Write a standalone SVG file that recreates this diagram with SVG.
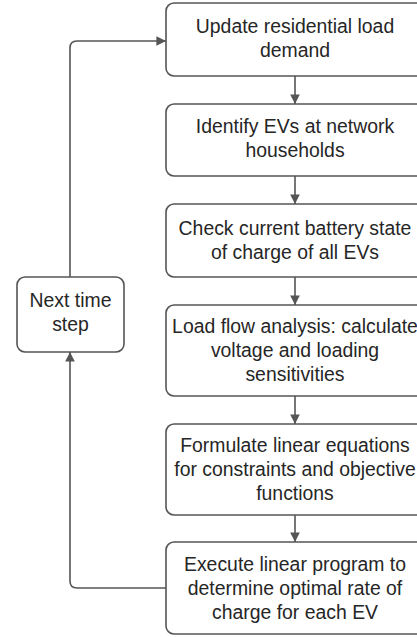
<svg xmlns="http://www.w3.org/2000/svg" width="417" height="637" viewBox="0 0 417 637">
<style>
.box{fill:#fff;stroke:#555;stroke-width:1.6}
.t{font-family:"Liberation Sans",Arial,sans-serif;font-size:19.4px;fill:#262626;text-anchor:middle}
.c{fill:none;stroke:#555;stroke-width:1.6}
</style>
<defs>
<marker id="ah" viewBox="0 0 10 10" refX="10" refY="5" markerWidth="6" markerHeight="6" orient="auto" markerUnits="strokeWidth">
<path d="M0,0 L10,5 L0,10 z" fill="#555"/>
</marker>
</defs>
<rect width="417" height="637" fill="#fff"/>
<g id="connectors">
<path class="c" d="M295,76 V104" marker-end="url(#ah)"/>
<path class="c" d="M295,176 V204" marker-end="url(#ah)"/>
<path class="c" d="M295,277 V305" marker-end="url(#ah)"/>
<path class="c" d="M295,396 V424" marker-end="url(#ah)"/>
<path class="c" d="M295,515 V542" marker-end="url(#ah)"/>
<path class="c" d="M166,588 H77 Q70,588 70,581 V352" marker-end="url(#ah)"/>
<path class="c" d="M70,277 V48 Q70,41 77,41 H166" marker-end="url(#ah)"/>
</g>
<g id="n1">
<rect class="box" x="166" y="3" width="258" height="73" rx="8"/>
<text class="t" x="295" y="33">Update residential load</text>
<text class="t" x="295" y="57">demand</text>
</g>
<g id="n2">
<rect class="box" x="166" y="104" width="258" height="72" rx="8"/>
<text class="t" x="295" y="133">Identify EVs at network</text>
<text class="t" x="295" y="157">households</text>
</g>
<g id="n3">
<rect class="box" x="166" y="204" width="258" height="73" rx="8"/>
<text class="t" x="295" y="235">Check current battery state</text>
<text class="t" x="295" y="259">of charge of all EVs</text>
</g>
<g id="n4">
<rect class="box" x="166" y="305" width="258" height="91" rx="8"/>
<text class="t" x="295" y="333">Load flow analysis: calculate</text>
<text class="t" x="295" y="357">voltage and loading</text>
<text class="t" x="295" y="381">sensitivities</text>
</g>
<g id="n5">
<rect class="box" x="166" y="424" width="258" height="91" rx="8"/>
<text class="t" x="295" y="452">Formulate linear equations</text>
<text class="t" x="295" y="476">for constraints and objective</text>
<text class="t" x="295" y="500">functions</text>
</g>
<g id="n6">
<rect class="box" x="166" y="542" width="258" height="92" rx="8"/>
<text class="t" x="295" y="571">Execute linear program to</text>
<text class="t" x="295" y="595">determine optimal rate of</text>
<text class="t" x="295" y="619">charge for each EV</text>
</g>
<g id="n7">
<rect class="box" x="17" y="277" width="107" height="75" rx="8"/>
<text class="t" x="70.5" y="307">Next time</text>
<text class="t" x="70.5" y="331">step</text>
</g>
</svg>
